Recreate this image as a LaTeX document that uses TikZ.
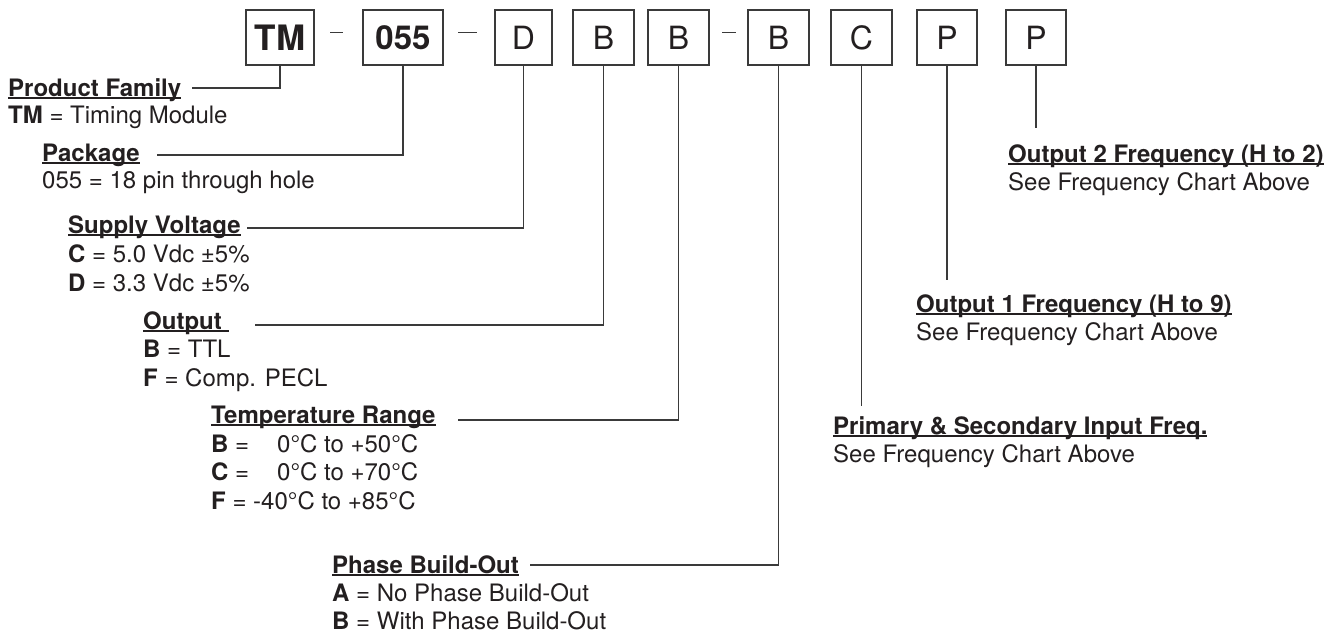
\documentclass[tikz,border=0pt]{standalone}
\usepackage{fontspec}
\setmainfont{TeX Gyre Heros}
\definecolor{ink}{HTML}{231F20}
\definecolor{wirec}{HTML}{3A3A3A}
\newcommand\hd[1]{\setbox0\hbox{\bfseries #1}\rlap{\rule[-2.6pt]{\wd0}{1.3pt}}\box0}
\begin{document}
\begin{tikzpicture}[x=1pt,y=-1pt,
  codebox/.style={draw=wirec, line width=1.4pt, minimum width=#1, minimum height=55pt, inner sep=0pt, text=ink, font=\fontsize{32}{32}\selectfont},
  bigbold/.style={font=\fontsize{33}{33}\selectfont\bfseries},
  txt/.style={anchor=base west, inner sep=0pt, text=ink, font=\fontsize{24}{28}\selectfont},
  wire/.style={draw=wirec, line width=1.3pt},
  sep/.style={draw=wirec, line width=1pt}]
\useasboundingbox (0,0) rectangle (1338,633);
% code boxes
\node[codebox=68pt, bigbold, font=\fontsize{35}{35}\selectfont\bfseries] (tm) at (280,37.5) {TM};
\node[codebox=80pt, bigbold] (n055) at (403,37.5) {055};
\node[codebox=57pt] (d) at (523.5,37.5) {D};
\node[codebox=61pt] (b1) at (603.5,37.5) {B};
\node[codebox=61pt] (b2) at (678.5,37.5) {B};
\node[codebox=61pt] (b3) at (778.5,37.5) {B};
\node[codebox=61pt] (c) at (861.5,37.5) {C};
\node[codebox=60pt] (p1) at (947,37.5) {P};
\node[codebox=60pt] (p2) at (1036,37.5) {P};
% separators
\draw[sep] (330,32) -- (343,32);
\draw[sep] (458,32) -- (477,32);
\draw[sep] (722,32) -- (736,32);
% left descriptions
\node[txt] (pf) at (8,96) {\hd{Product Family}};
\node[txt] (pf1) at (8,123) {\textbf{TM} = Timing Module};
\node[txt] (pk) at (42,161) {\hd{Package}};
\node[txt] (pk1) at (42,188) {055 = 18 pin through hole};
\node[txt] (sv) at (68,233) {\hd{Supply Voltage}};
\node[txt] (sv1) at (68,262) {\textbf{C} = 5.0 Vdc ±5\%};
\node[txt] (sv2) at (68,291) {\textbf{D} = 3.3 Vdc ±5\%};
\node[txt] (op) at (143,329) {\hd{Output\ }};
\node[txt] (op1) at (143,357) {\textbf{B} = TTL};
\node[txt] (op2) at (143,386) {\textbf{F} = Comp. PECL};
\node[txt] (tr) at (211,423) {\hd{Temperature Range}};
\node[txt] (tr1) at (211,452) {\textbf{B} = \phantom{-4}0°C to +50°C};
\node[txt] (tr2) at (211,480) {\textbf{C} = \phantom{-4}0°C to +70°C};
\node[txt] (tr3) at (211,509) {\textbf{F} = -40°C to +85°C};
\node[txt] (pb) at (332,573) {\hd{Phase Build-Out}};
\node[txt] (pb1) at (332,601) {\textbf{A} = No Phase Build-Out};
\node[txt] (pb2) at (332,629) {\textbf{B} = With Phase Build-Out};
% right descriptions
\node[txt] (o2) at (1008,162) {\hd{Output 2 Frequency (H to 2)}};
\node[txt] (o2a) at (1008,190) {See Frequency Chart Above};
\node[txt] (o1) at (916,312) {\hd{Output 1 Frequency (H to 9)}};
\node[txt] (o1a) at (916,340) {See Frequency Chart Above};
\node[txt] (pi) at (833,434) {\hd{Primary \& Secondary Input Freq.}};
\node[txt] (pia) at (833,462) {See Frequency Chart Above};
% connector ends
\coordinate (pfL) at (192,88);
\coordinate (pkL) at (157,155);
\coordinate (svL) at (247,228);
\coordinate (opL) at (255,325);
\coordinate (trL) at (458,420);
\coordinate (pbL) at (530,565);
\coordinate (cE) at (861.5,406);
\coordinate (p1E) at (947,280);
\coordinate (p2E) at (1036,128);
% connectors
\draw[wire] (tm.south) |- (pfL);
\draw[wire] (n055.south) |- (pkL);
\draw[wire] (d.south) |- (svL);
\draw[wire] (b1.south) |- (opL);
\draw[wire] (b2.south) |- (trL);
\draw[wire] (b3.south) |- (pbL);
\draw[wire] (c.south) -- (cE);
\draw[wire] (p1.south) -- (p1E);
\draw[wire] (p2.south) -- (p2E);
\end{tikzpicture}
\end{document}
